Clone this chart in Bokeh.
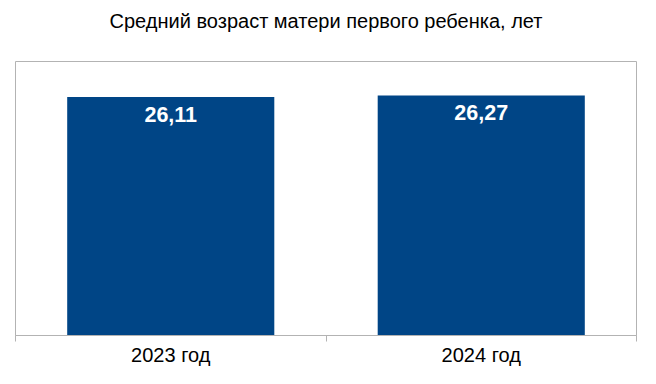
from bokeh.plotting import figure
from bokeh.models import ColumnDataSource, FixedTicker, Range1d
from bokeh.core.properties import value
from bokeh.embed import file_html
from bokeh.resources import INLINE

title_text = "Средний возраст матери первого ребенка, лет"
categories = ["2023 год", "2024 год"]
values = [26.11, 26.27]
y_max = 30

xs = [i + 0.5 for i in range(len(categories))]
labels = [f"{v:.2f}".replace(".", ",") for v in values]
source = ColumnDataSource(dict(x=xs, top=values, label=labels))

p = figure(width=640, height=368, output_backend="svg", toolbar_location=None,
           x_range=Range1d(0, len(categories)), y_range=Range1d(0, y_max),
           min_border_left=15, min_border_right=4, min_border_top=60, min_border_bottom=24)

p.title.text = title_text
p.title.align = "center"
p.title.text_font = "Liberation Sans"
p.title.text_font_size = "20px"
p.title.text_font_style = "normal"
p.title.text_color = "#000000"
p.title.standoff = 0
p.title.padding = dict(top=7, bottom=30, left=0, right=0)

p.vbar(x="x", top="top", width=0.667, bottom=0, source=source,
       fill_color="#004586", line_color=None)

p.text(x="x", y="top", text="label", source=source, text_align="center",
       text_baseline="middle", y_offset=17, text_color="white",
       text_font=value("Liberation Sans"), text_font_size="21.5px", text_font_style="bold")

p.xgrid.visible = False
p.ygrid.visible = False
p.yaxis.visible = False
p.outline_line_color = "#b3b3b3"
p.background_fill_color = "white"
p.border_fill_color = "white"

ax = p.xaxis[0]
ax.ticker = FixedTicker(ticks=xs, minor_ticks=list(range(len(categories) + 1)))
ax.major_label_overrides = {x: c for x, c in zip(xs, categories)}
ax.major_tick_line_color = None
ax.major_tick_in = 0
ax.major_tick_out = 0
ax.minor_tick_line_color = "#b3b3b3"
ax.minor_tick_in = 0
ax.minor_tick_out = 6
ax.axis_line_color = "#b3b3b3"
ax.major_label_text_font = "Liberation Sans"
ax.major_label_text_font_size = "20px"
ax.major_label_text_color = "#000000"
ax.major_label_standoff = 2

open("out.html", "w").write(file_html(p, INLINE))
